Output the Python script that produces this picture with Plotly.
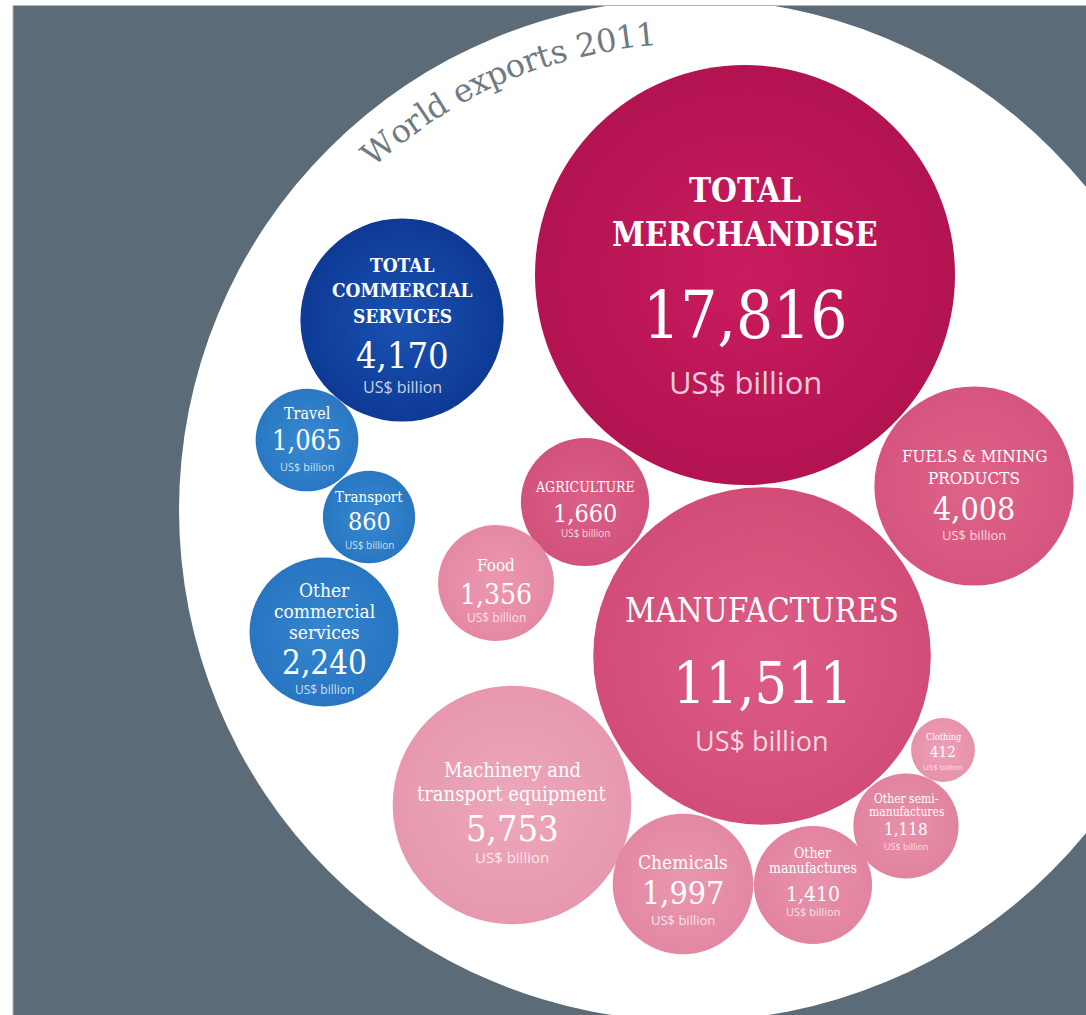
import math
import plotly.graph_objects as go

# ---------------- data ----------------
categories = ["TOTAL MERCHANDISE", "MANUFACTURES", "TOTAL COMMERCIAL SERVICES",
              "FUELS & MINING PRODUCTS", "Machinery and transport equipment",
              "Chemicals", "Other manufactures", "Other semi-manufactures", "Clothing",
              "AGRICULTURE", "Food", "Travel", "Transport", "Other commercial services"]
values = [17816, 11511, 4170, 4008, 5753, 1997, 1410, 1118, 412, 1660, 1356, 1065, 860, 2240]
label_lines = [["TOTAL", "MERCHANDISE"], ["MANUFACTURES"], ["TOTAL", "COMMERCIAL", "SERVICES"],
               ["FUELS & MINING", "PRODUCTS"], ["Machinery and", "transport equipment"],
               ["Chemicals"], ["Other", "manufactures"], ["Other semi-", "manufactures"], ["Clothing"],
               ["AGRICULTURE"], ["Food"], ["Travel"], ["Transport"], ["Other", "commercial", "services"]]
unit_label = "US$ billion"
title_text = "World exports 2011"

# ---------------- layout / style (pixel space) ----------------
W, H = 1086, 1015
SERIF = "DejaVu Serif Condensed, DejaVu Serif, serif"
SANS = "Open Sans, Liberation Sans, sans-serif"

# col = centre colour, edge = rim colour
styles = [
    dict(cx=745, cy=275, col="#C91C5F", edge="#B31351", lab=[-85, -41], ls=33, bold=True, vd=40, vs=65, ud=107, us=31),
    dict(cx=762, cy=656, col="#DD5C85", edge="#D14D77", lab=[-46], ls=33, bold=False, vd=27, vs=57, ud=84, us=27),
    dict(cx=402, cy=320, col="#1A52B3", edge="#0E3A95", lab=[-55, -30, -4], ls=19, bold=True, vd=35, vs=36, ud=67, us=16),
    dict(cx=974, cy=486, col="#DF6389", edge="#D5557E", lab=[-30, -8], ls=17, bold=False, vd=23, vs=32, ud=49, us=13),
    dict(cx=512, cy=805, col="#EDA7BB", edge="#E798AF", lab=[-35, -11], ls=20, bold=False, vd=23, vs=36, ud=52, us=15),
    dict(cx=683, cy=884, col="#EA97B0", edge="#E388A3", lab=[-22], ls=19, bold=False, vd=9, vs=32, ud=36, us=13),
    dict(cx=813, cy=885, col="#E992AC", edge="#E284A0", lab=[-32, -17], ls=14, bold=False, vd=9, vs=21, ud=26, us=11),
    dict(cx=906, cy=826, col="#E891AB", edge="#E1839F", lab=[-27, -14], ls=12, bold=False, vd=3, vs=17, ud=20, us=9),
    dict(cx=943, cy=750, col="#EDA0B7", edge="#E692AB", lab=[-13], ls=9, bold=False, vd=2, vs=15, ud=16, us=8),
    dict(cx=585, cy=502, col="#DC6087", edge="#D1527B", lab=[-15], ls=14, bold=False, vd=11, vs=25, ud=31, us=10),
    dict(cx=496, cy=583, col="#EC97B0", edge="#E589A3", lab=[-18], ls=17, bold=False, vd=11, vs=28, ud=34, us=12),
    dict(cx=307, cy=440, col="#3889D1", edge="#2A78C3", lab=[-27], ls=16, bold=False, vd=0, vs=27, ud=26, us=11),
    dict(cx=369, cy=517, col="#3788D0", edge="#2977C2", lab=[-20], ls=15, bold=False, vd=4, vs=25, ud=28, us=10),
    dict(cx=324, cy=632, col="#3686CF", edge="#2875C1", lab=[-42, -21, 0], ls=19, bold=False, vd=30, vs=33, ud=57, us=12),
]

MAX_DIAM = 420  # px diameter of the largest bubble

fig = go.Figure()
fig.add_trace(go.Scatter(
    x=[s["cx"] for s in styles],
    y=[s["cy"] for s in styles],
    mode="markers",
    text=categories,
    hoverinfo="text",
    marker=dict(
        size=values,
        sizemode="area",
        sizeref=2.0 * max(values) / (MAX_DIAM ** 2),
        color=[s["edge"] for s in styles],
        gradient=dict(type="radial", color=[s["col"] for s in styles]),
        line=dict(width=0),
        opacity=1,
    ),
    showlegend=False,
))

annotations = []
for cat, val, lines, s in zip(categories, values, label_lines, styles):
    for line, dy in zip(lines, s["lab"]):
        annotations.append(dict(
            x=s["cx"], y=s["cy"] + dy, text=line, showarrow=False,
            xanchor="center", yanchor="middle",
            font=dict(family=SERIF, size=s["ls"], color="white",
                      weight=700 if s["bold"] else 400)))
    annotations.append(dict(
        x=s["cx"], y=s["cy"] + s["vd"], text=f"{val:,}", showarrow=False,
        xanchor="center", yanchor="middle",
        font=dict(family=SERIF, size=s["vs"], color="white")))
    annotations.append(dict(
        x=s["cx"], y=s["cy"] + s["ud"], text=unit_label, showarrow=False,
        xanchor="center", yanchor="middle",
        font=dict(family=SANS, size=s["us"], color="rgba(255,255,255,0.78)")))

# curved title along the white disc
CX, CY, R_BG = 690, 510, 511
R_T = 477
FS_T = 32
EM = {"W": 1.03, "o": 0.602, "r": 0.478, "l": 0.320, "d": 0.640, " ": 0.318,
      "e": 0.592, "x": 0.564, "p": 0.640, "t": 0.402, "s": 0.513,
      "2": 0.636, "0": 0.636, "1": 0.636}
chars = list(title_text)
wid = [EM.get(c, 0.6) * FS_T for c in chars]
span = sum(wid) - wid[0] / 2 - wid[-1] / 2
mid = math.radians(-23.0)
th0 = mid - (span / R_T) / 2
cum = 0.0
for c, w in zip(chars, wid):
    arc = cum + w / 2 - wid[0] / 2
    cum += w
    if c == " ":
        continue
    th = th0 + arc / R_T
    annotations.append(dict(
        x=CX + R_T * math.sin(th), y=CY - R_T * math.cos(th), text=c,
        textangle=math.degrees(th), showarrow=False,
        xanchor="center", yanchor="middle",
        font=dict(family="DejaVu Serif, serif", size=FS_T, color="#6F7A83")))

shapes = [
    dict(type="rect", x0=13, y0=6, x1=W + 5, y1=H + 5, fillcolor="#5B6B78",
         line=dict(width=0), layer="below"),
    dict(type="circle", x0=CX - R_BG, y0=CY - R_BG, x1=CX + R_BG, y1=CY + R_BG,
         fillcolor="white", line=dict(width=0), layer="below"),
    dict(type="line", x0=13, y0=5.5, x1=W + 5, y1=5.5, line=dict(color="#AEB5BB", width=1), layer="below"),
    dict(type="line", x0=13, y0=5.5, x1=13, y1=H + 5, line=dict(color="#AEB5BB", width=1), layer="below"),
]

fig.update_layout(
    width=W, height=H,
    margin=dict(l=0, r=0, t=0, b=0),
    paper_bgcolor="white", plot_bgcolor="white",
    xaxis=dict(range=[0, W], visible=False, fixedrange=True),
    yaxis=dict(range=[H, 0], visible=False, fixedrange=True),
    shapes=shapes,
    annotations=annotations,
    showlegend=False,
)

fig.write_html("out.html", config={"displayModeBar": False},
               post_script="document.body.style.margin='0';document.body.style.overflow='hidden';")
